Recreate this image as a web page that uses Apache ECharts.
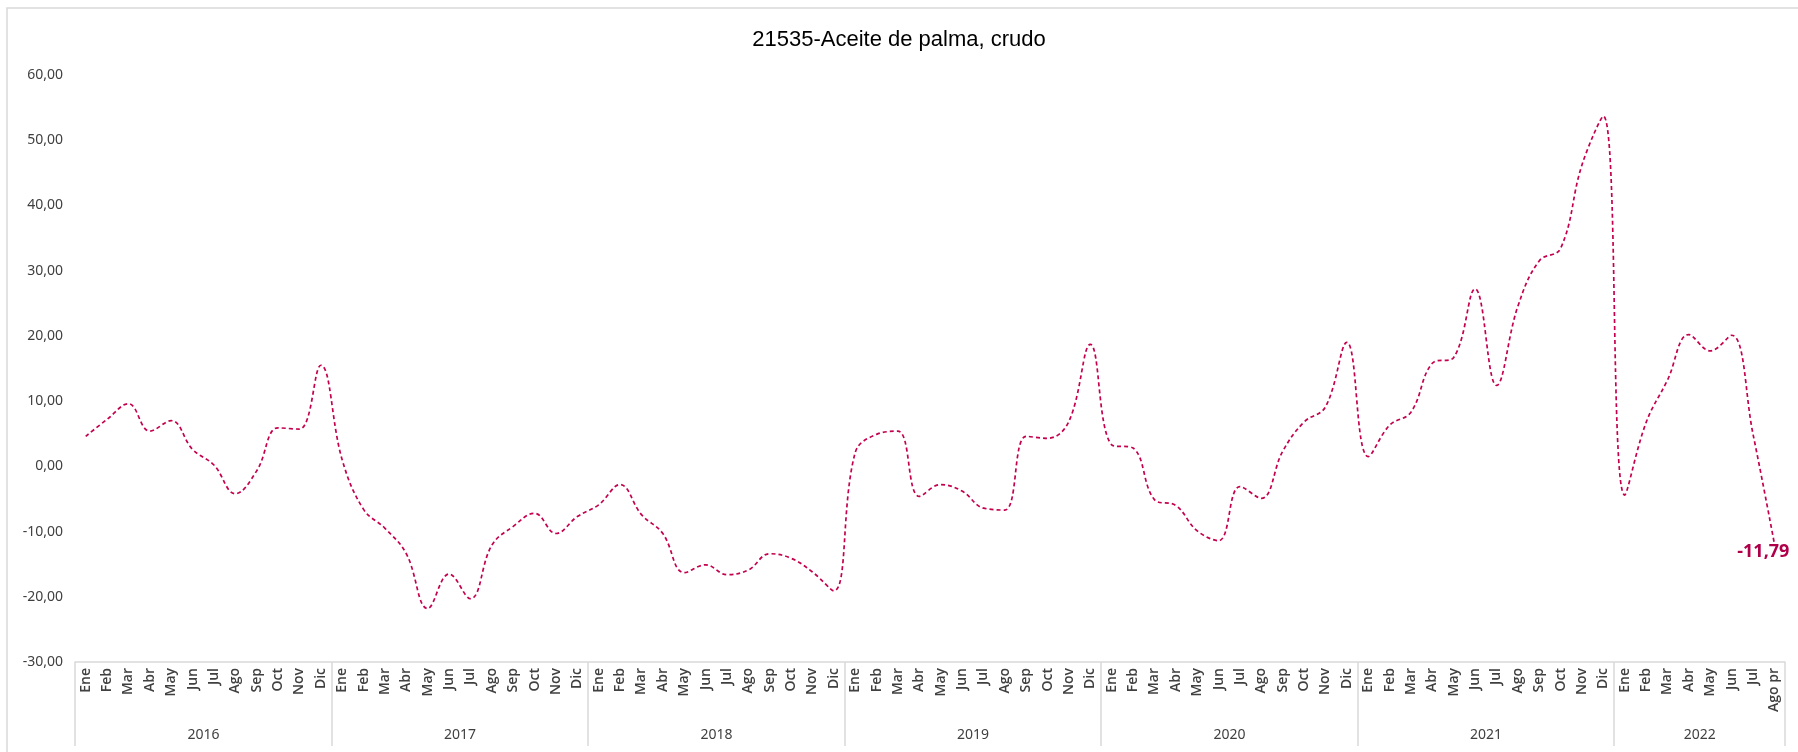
<!DOCTYPE html>
<html>
<head>
<meta charset="utf-8">
<script src="https://cdn.jsdelivr.net/npm/echarts@6/dist/echarts.min.js"></script>
<style>
html,body{margin:0;padding:0;background:#fff;}
#chart{width:1798px;height:752px;}
</style>
</head>
<body>
<div id="chart"></div>
<script>
const title = '21535-Aceite de palma, crudo';
const years = ['2016', '2017', '2018', '2019', '2020', '2021', '2022'];
const monthsFull = ['Ene', 'Feb', 'Mar', 'Abr', 'May', 'Jun', 'Jul', 'Ago', 'Sep', 'Oct', 'Nov', 'Dic'];
const months2022 = ['Ene', 'Feb', 'Mar', 'Abr', 'May', 'Jun', 'Jul', 'Ago pr'];

const v2016 = [4.6, 7.2, 9.6, 5.4, 7.0, 2.6, 0.2, -4.2, -0.7, 5.9, 5.7, 15.5];
const v2017 = [1.0, -6.6, -9.5, -13.4, -21.8, -16.5, -20.3, -12.1, -9.2, -7.2, -10.3, -7.7];
const v2018 = [-5.9, -2.8, -7.4, -10.3, -16.3, -15.1, -16.6, -15.9, -13.4, -14.1, -16.2, -19.1];
const v2019 = [2.1, 4.9, 5.4, -4.6, -2.8, -3.8, -6.4, -6.7, 4.6, 4.3, 6.9, 18.7];
const v2020 = [3.3, 2.8, -5.1, -6.0, -9.9, -11.4, -3.1, -4.9, 2.3, 6.8, 9.1, 19.0];
const v2021 = [1.5, 6.3, 8.3, 15.8, 16.7, 27.2, 12.4, 24.5, 31.5, 33.4, 46.2, 53.7];
const v2022 = [-4.4, 6.7, 13.2, 20.2, 17.7, 20.1, 5.0, -11.79];

const yTicks = {min: -30, max: 60, interval: 10};

// build category list and values
const categories = [];
years.forEach(function (y) {
  const ms = y === '2022' ? months2022 : monthsFull;
  ms.forEach(function (m) { categories.push(m); });
});
const values = [].concat(v2016, v2017, v2018, v2019, v2020, v2021, v2022);

// year label index = middle of each year's block; tick at first month of each year
const yearStart = [];
const yearLabelIdx = {};
let start = 0;
years.forEach(function (y) {
  const n = y === '2022' ? months2022.length : monthsFull.length;
  yearStart.push(start);
  yearLabelIdx[start + n / 2] = y;
  start += n;
});

const lineColor = '#C4004F';
const seriesData = values.map(function (v, i) {
  if (i === values.length - 1) {
    return {
      value: v,
      label: {
        show: true,
        position: 'bottom',
        distance: 0,
        offset: [-11, 0],
        fontFamily: 'Open Sans, Noto Sans, sans-serif',
        fontSize: 18,
        fontWeight: 'bold',
        color: '#B0004A',
        formatter: function (p) { return p.value.toFixed(2).replace('.', ','); }
      }
    };
  }
  return v;
});

const chart = echarts.init(document.getElementById('chart'));
chart.setOption({
  backgroundColor: '#fff',
  animation: false,
  title: {
    text: title,
    left: 'center',
    top: 24,
    textStyle: {fontFamily: 'Liberation Sans, Arial, sans-serif', fontSize: 22, fontWeight: 'normal', color: '#000'}
  },
  graphic: [{
    type: 'rect',
    shape: {x: 7, y: 8, width: 1820, height: 800},
    style: {fill: 'none', stroke: '#d9d9d9', lineWidth: 1.5},
    silent: true, z: -1
  }],
  grid: {left: 75, right: 13, top: 75, bottom: 90, containLabel: false},
  xAxis: [{
    type: 'category',
    data: categories,
    boundaryGap: true,
    axisLine: {show: true, onZero: false, lineStyle: {color: '#d9d9d9', width: 1.5}},
    axisTick: {show: false},
    axisLabel: {
      interval: 0,
      rotate: 90,
      margin: 6,
      fontFamily: 'Open Sans, Noto Sans, sans-serif',
      fontSize: 14,
      fontWeight: 600,
      color: '#404040'
    },
    splitLine: {show: false}
  }, {
    type: 'category',
    data: categories,
    position: 'bottom',
    boundaryGap: true,
    axisLine: {show: false, onZero: false},
    axisTick: {
      show: true,
      interval: function (idx) { return yearStart.indexOf(idx) >= 0; },
      length: 84,
      lineStyle: {color: '#d9d9d9', width: 1.5}
    },
    axisLabel: {
      interval: function (idx) { return yearLabelIdx[idx] !== undefined; },
      formatter: function (val, idx) { return yearLabelIdx[idx] || ''; },
      margin: 66,
      padding: [0, 21, 0, 0],
      fontFamily: 'Liberation Sans Narrow, Noto Sans, sans-serif',
      fontSize: 14,
      color: '#404040'
    },
    splitLine: {show: false}
  }],
  yAxis: {
    type: 'value',
    min: yTicks.min,
    max: yTicks.max,
    interval: yTicks.interval,
    axisLine: {show: false},
    axisTick: {show: false},
    splitLine: {show: false},
    axisLabel: {
      margin: 12,
      fontFamily: 'Liberation Sans Narrow, Noto Sans, sans-serif',
      fontSize: 14,
      color: '#404040',
      formatter: function (v) { return v.toFixed(2).replace('.', ','); }
    }
  },
  series: [{
    type: 'line',
    data: seriesData,
    smooth: 0.4,
    symbol: 'circle',
    symbolSize: 0,
    showSymbol: true,
    lineStyle: {color: lineColor, width: 1.7, type: [4, 3]},
    itemStyle: {color: lineColor}
  }]
});
</script>
</body>
</html>
